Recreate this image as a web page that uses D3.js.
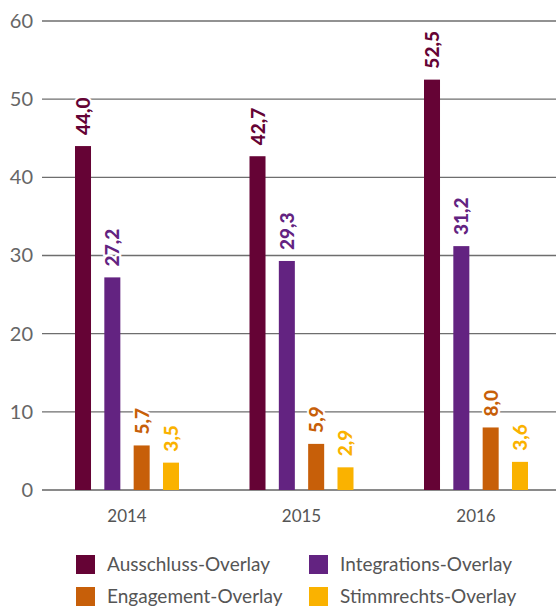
<!DOCTYPE html>
<html>
<head>
<meta charset="utf-8">
<script src="https://cdn.jsdelivr.net/npm/d3@7"></script>
<style>
  body { margin: 0; background: #fff; }
  svg text { font-family: Lato, "Open Sans", sans-serif; }
</style>
</head>
<body>
<div id="chart"></div>
<script>
// data
var years  = ["2014", "2015", "2016"];
var series = ["Ausschluss-Overlay", "Integrations-Overlay", "Engagement-Overlay", "Stimmrechts-Overlay"];
var colors = ["#650335", "#632381", "#c75f09", "#fab200"];
var ausschluss   = [44.0, 42.7, 52.5];
var integrations = [27.2, 29.3, 31.2];
var engagement   = [5.7, 5.9, 8.0];
var stimmrechts  = [3.5, 2.9, 3.6];
var yTicks = [0, 10, 20, 30, 40, 50, 60];

var values = [ausschluss, integrations, engagement, stimmrechts];
var rows = [];
years.forEach(function(y, i) {
  series.forEach(function(s, j) {
    rows.push({year: y, series: s, idx: j, value: values[j][i]});
  });
});

var W = 556, H = 606;
var svg = d3.select("#chart").append("svg")
  .attr("width", W).attr("height", H);

var x0 = d3.scaleBand().domain(years).range([75, 75 + 3 * 174.5]);
var x1 = d3.scaleBand().domain(series).range([0, 104]).paddingInner(0.454);
var y = d3.scaleLinear().domain([0, 60]).range([490, 21]);

// gridlines
var grid = svg.append("g");
grid.selectAll("line").data(yTicks).enter().append("line")
  .attr("x1", 42).attr("x2", W)
  .attr("y1", d => y(d)).attr("y2", d => y(d))
  .attr("stroke", d => d === 0 ? "#8a8a8a" : "#6e6e6e")
  .attr("stroke-width", d => d === 0 ? 2 : 1.3);

// y axis labels
var yAxis = svg.append("g")
  .attr("transform", "translate(33,0)")
  .call(d3.axisLeft(y).tickValues(yTicks).tickSize(0).tickPadding(0).tickFormat(d3.format("d")));
yAxis.select(".domain").remove();
yAxis.selectAll("text").attr("fill", "#666").style("font-size", "20px");

// bars
svg.append("g").selectAll("rect").data(rows).enter().append("rect")
  .attr("x", d => x0(d.year) + x1(d.series))
  .attr("y", d => y(d.value))
  .attr("width", x1.bandwidth())
  .attr("height", d => y(0) - y(d.value))
  .attr("fill", d => colors[d.idx]);

// value labels
var fmt = function(v) { return d3.format(".1f")(v).replace(".", ","); };
svg.append("g").selectAll("text").data(rows).enter().append("text")
  .attr("transform", function(d) {
    var cx = x0(d.year) + x1(d.series) + x1.bandwidth() / 2;
    return "translate(" + (cx + 7) + "," + (y(d.value) - 11) + ") rotate(-90)";
  })
  .text(d => fmt(d.value))
  .attr("fill", d => colors[d.idx])
  .attr("stroke", "#fff").attr("stroke-width", 4).attr("paint-order", "stroke")
  .style("font-size", "19px").style("font-weight", "900");

// x labels
var xAxis = svg.append("g").attr("transform", "translate(" + (52 - x0.bandwidth() / 2) + ",490)")
  .call(d3.axisBottom(x0).tickSize(0).tickPadding(20));
xAxis.select(".domain").remove();
xAxis.selectAll("text").attr("fill", "#555").style("font-size", "17px");

// legend
var legend = svg.append("g").selectAll("g").data(series).enter().append("g")
  .attr("transform", (d, i) => "translate(" + (i % 2 === 0 ? 76 : 309) + "," + (i < 2 ? 555 : 587) + ")");
legend.append("rect").attr("width", 19).attr("height", 19).attr("fill", (d, i) => colors[i]);
legend.append("text").attr("x", 31).attr("y", 16).text(d => d)
  .attr("fill", "#555").style("font-size", "19px");
</script>
</body>
</html>
